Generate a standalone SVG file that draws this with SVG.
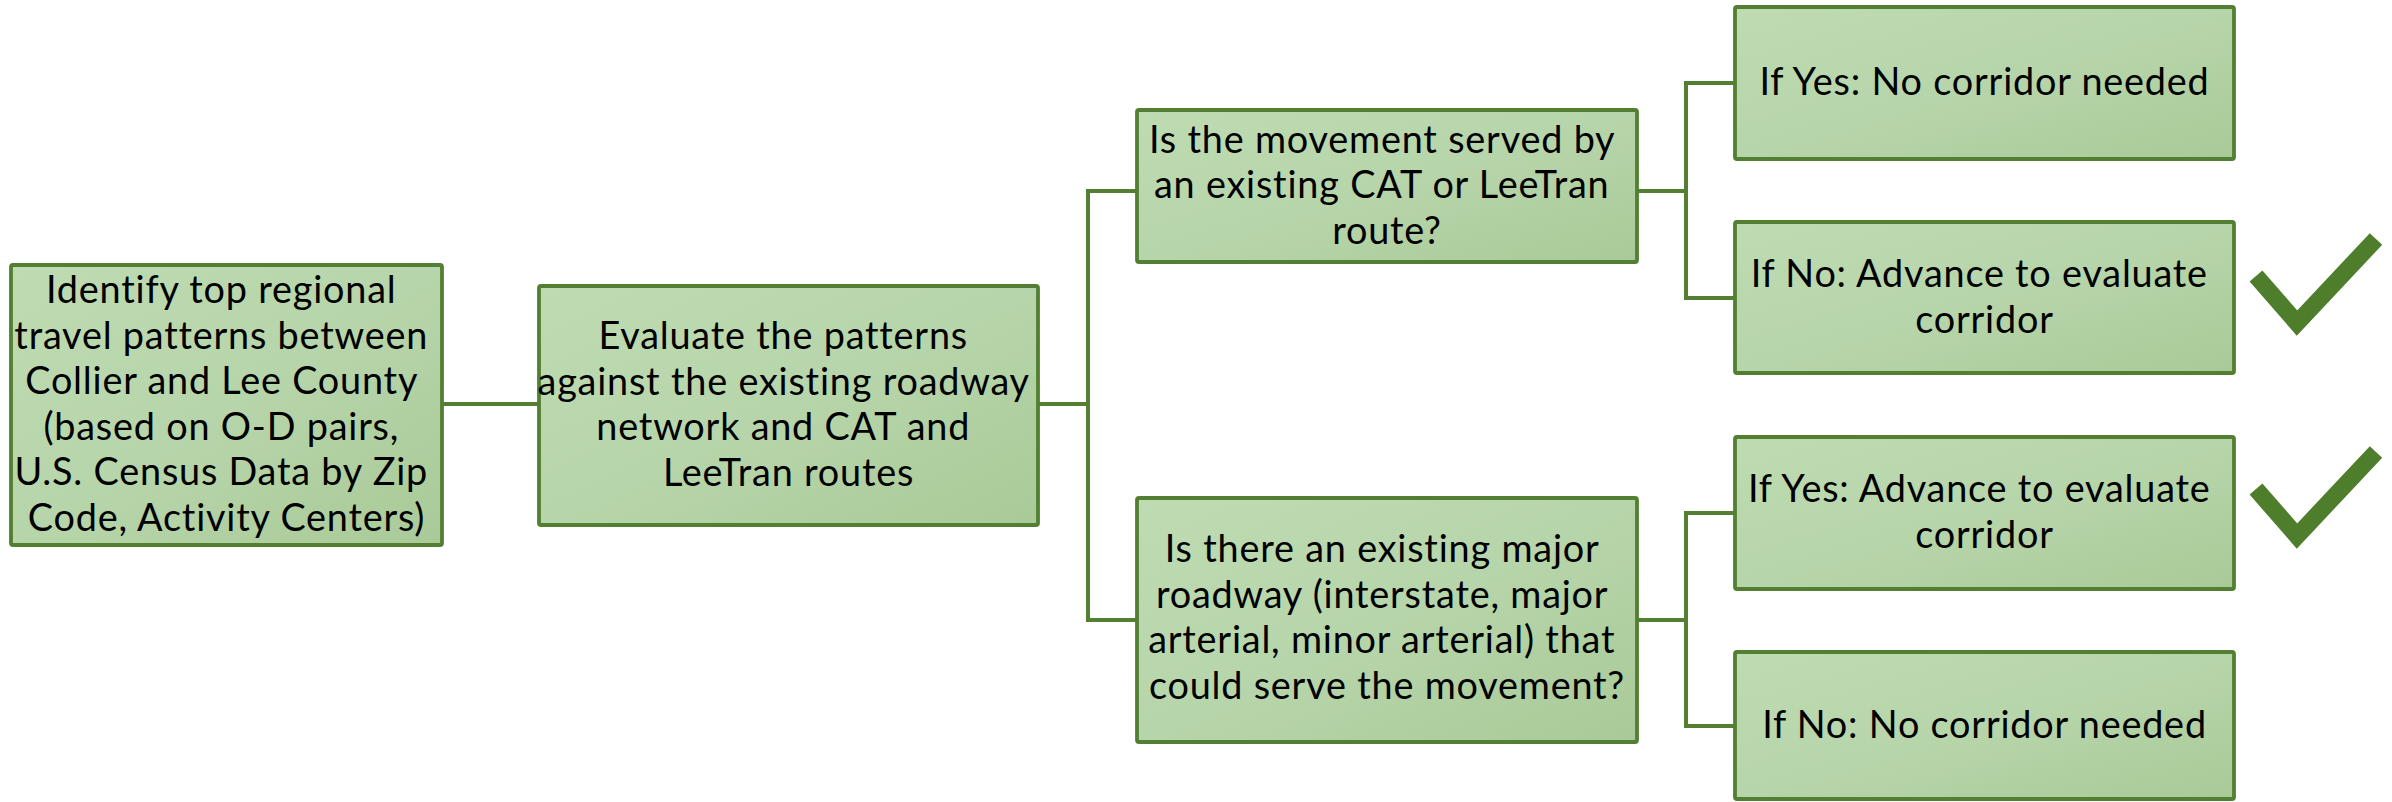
<svg xmlns="http://www.w3.org/2000/svg" width="2392" height="802" viewBox="0 0 2392 802">
  <defs>
    <linearGradient id="boxFill" x1="0" y1="0" x2="1" y2="1">
      <stop offset="0" stop-color="#bedbb2"/>
      <stop offset="0.5" stop-color="#b7d5aa"/>
      <stop offset="1" stop-color="#a9ca98"/>
    </linearGradient>
    <style>
      .box { fill: url(#boxFill); stroke: #527f31; stroke-width: 3.8; }
      .lbl { font-family: Lato, "Open Sans", "Liberation Sans", sans-serif; font-size: 37.8px; letter-spacing: 0.8px; fill: #000000; text-anchor: middle; }
      .conn { fill: none; stroke: #527f31; stroke-width: 4; }
      .check { fill: none; stroke: #4e7d2b; stroke-width: 17; stroke-linejoin: miter; stroke-linecap: butt; stroke-miterlimit: 10; }
    </style>
  </defs>
  <rect width="2392" height="802" fill="#ffffff"/>

  <g id="connectors">
    <line class="conn" x1="442" y1="404" x2="539" y2="404"/>
    <path class="conn" d="M1038 404 H1088 M1137 191 H1088 V620 H1137"/>
    <path class="conn" d="M1637 191 H1686 M1735 83 H1686 V298 H1735"/>
    <path class="conn" d="M1637 620 H1686 M1735 513 H1686 V726 H1735"/>
  </g>

  <g id="node-identify">
    <rect class="box" x="11" y="265" width="431" height="280" rx="2"/>
    <text class="lbl" x="226.5" y="303">
      <tspan x="226.5">Identify top regional</tspan>
      <tspan x="226.5" dy="45.5">travel patterns between</tspan>
      <tspan x="226.5" dy="45.5">Collier and Lee County</tspan>
      <tspan x="226.5" dy="45.5">(based on O-D pairs,</tspan>
      <tspan x="226.5" dy="45.5">U.S. Census Data by Zip</tspan>
      <tspan x="226.5" dy="45.5">Code, Activity Centers)</tspan>
    </text>
  </g>

  <g id="node-evaluate">
    <rect class="box" x="539" y="286" width="499" height="239" rx="2"/>
    <text class="lbl" x="788.5" y="349">
      <tspan x="788.5">Evaluate the patterns</tspan>
      <tspan x="788.5" dy="45.5">against the existing roadway</tspan>
      <tspan x="788.5" dy="45.5">network and CAT and</tspan>
      <tspan x="788.5" dy="45.5">LeeTran routes</tspan>
    </text>
  </g>

  <g id="node-transit-q">
    <rect class="box" x="1137" y="110" width="500" height="152" rx="2"/>
    <text class="lbl" x="1387" y="152.5">
      <tspan x="1387">Is the movement served by</tspan>
      <tspan x="1387" dy="45.5">an existing CAT or LeeTran</tspan>
      <tspan x="1387" dy="45.5">route?</tspan>
    </text>
  </g>

  <g id="node-roadway-q">
    <rect class="box" x="1137" y="498" width="500" height="244" rx="2"/>
    <text class="lbl" x="1387" y="562">
      <tspan x="1387">Is there an existing major</tspan>
      <tspan x="1387" dy="45.5">roadway (interstate, major</tspan>
      <tspan x="1387" dy="45.5">arterial, minor arterial) that</tspan>
      <tspan x="1387" dy="45.5">could serve the movement?</tspan>
    </text>
  </g>

  <g id="node-transit-yes">
    <rect class="box" x="1735" y="7" width="499" height="152" rx="2"/>
    <text class="lbl" x="1984.5" y="95">If Yes: No corridor needed</text>
  </g>

  <g id="node-transit-no">
    <rect class="box" x="1735" y="222" width="499" height="151" rx="2"/>
    <text class="lbl" x="1984.5" y="287">
      <tspan x="1984.5">If No: Advance to evaluate</tspan>
      <tspan x="1984.5" dy="45.5">corridor</tspan>
    </text>
    <polyline class="check" points="2256,276 2297,323 2376,239"/>
  </g>

  <g id="node-roadway-yes">
    <rect class="box" x="1735" y="437" width="499" height="152" rx="2"/>
    <text class="lbl" x="1984.5" y="502">
      <tspan x="1984.5">If Yes: Advance to evaluate</tspan>
      <tspan x="1984.5" dy="45.5">corridor</tspan>
    </text>
    <polyline class="check" points="2256,489 2297,536 2376,452"/>
  </g>

  <g id="node-roadway-no">
    <rect class="box" x="1735" y="652" width="499" height="147" rx="2"/>
    <text class="lbl" x="1984.5" y="738">If No: No corridor needed</text>
  </g>
</svg>
